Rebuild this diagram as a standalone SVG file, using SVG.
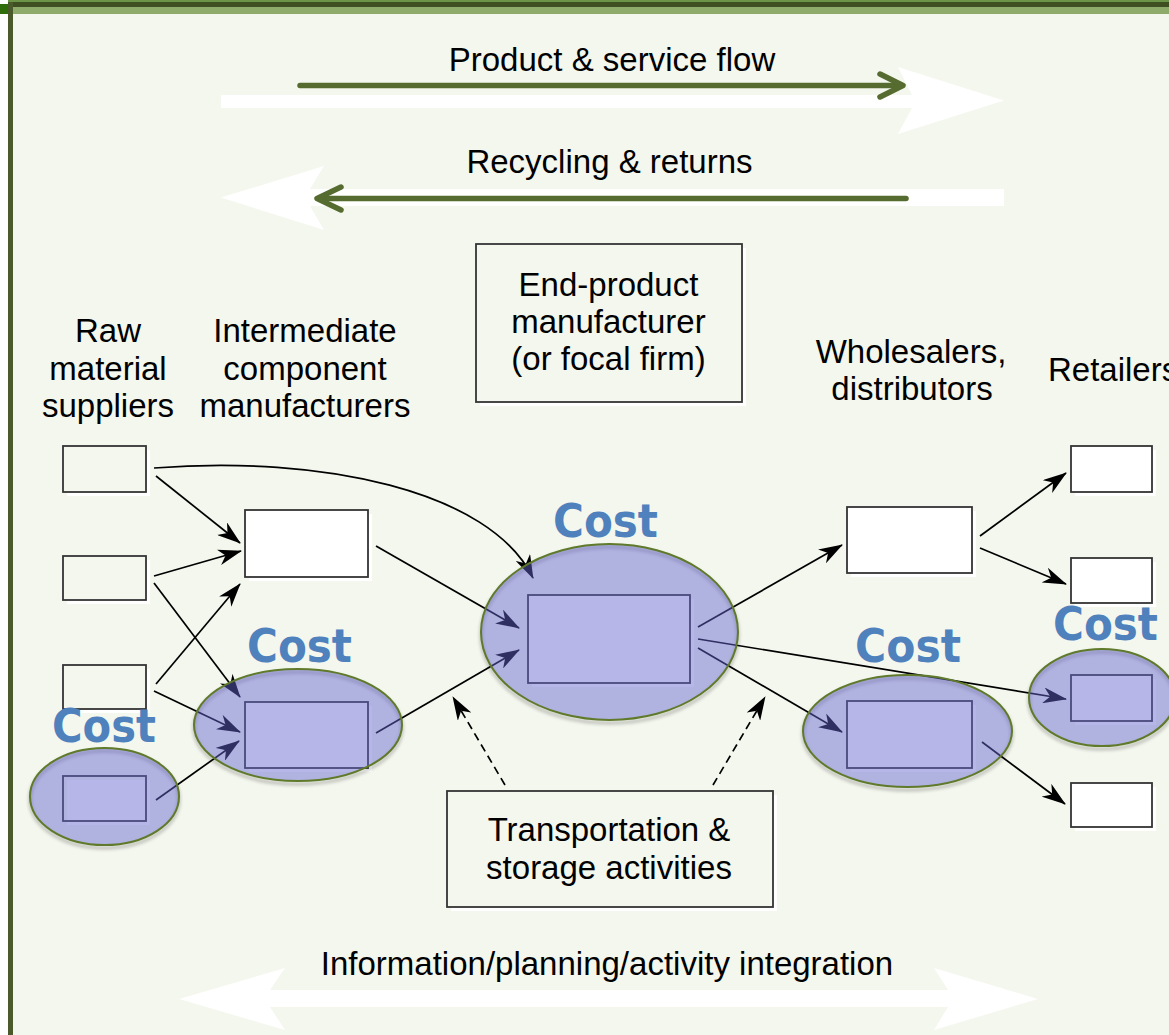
<svg xmlns="http://www.w3.org/2000/svg" width="1169" height="1035" viewBox="0 0 1169 1035">
<style>
.t{font-family:"Liberation Sans",Arial,sans-serif;font-size:33px;fill:#000;text-anchor:middle}
.cost{font-family:"DejaVu Sans",Verdana,sans-serif;font-weight:bold;font-size:47px;fill:#4f81bd}
.box{stroke:#333;stroke-width:1.8}
.sh{fill:#fff}
.hl{fill:rgb(100,100,208);fill-opacity:0.47;stroke:#5f7a2a;stroke-width:2}
.hs{fill:none;stroke:#000;stroke-opacity:0.18;stroke-width:4;filter:url(#blur)}
.c{fill:none;stroke:#000;stroke-width:1.7;marker-end:url(#ah)}
.d{stroke-dasharray:8 5}
.g{fill:none;stroke:#556b2f;stroke-width:5.5;stroke-linecap:round;stroke-linejoin:round}
.wa{fill:#fff}
</style>
<defs>
<marker id="ah" viewBox="0 0 24 16" refX="23" refY="8" markerWidth="24" markerHeight="16" markerUnits="userSpaceOnUse" orient="auto"><path d="M0,0 L24,8 L0,16 L7,8 Z" fill="#000"/></marker>
<filter id="blur" x="-10%" y="-10%" width="120%" height="130%"><feGaussianBlur stdDeviation="1.5"/></filter>
</defs>
<!-- frame -->
<rect x="0" y="0" width="1169" height="1035" fill="#fff"/>
<rect x="12" y="14" width="1157" height="1021" fill="#f4f7ee"/>
<rect x="8" y="0" width="1161" height="3" fill="#6b9446"/>
<rect x="8" y="2" width="1161" height="5" fill="#3f4f22"/>
<rect x="12" y="7" width="1157" height="7" fill="#8fab6c"/>
<rect x="0" y="4" width="8" height="10" fill="#2f6e0a"/>
<rect x="8" y="2" width="5" height="1033" fill="#4b5a2a"/>
<!-- flow arrows -->
<g id="flow-arrows">
<polygon class="wa" points="221,95 912,95 898,67 1004,100.5 898,134 912,108 221,108"/>
<line class="g" x1="300" y1="85.5" x2="902" y2="85.5"/>
<polyline class="g" points="880,74 903,85.5 880,97"/>
<polygon class="wa" points="1004,189 310,189 324,166 221,197.5 324,230 310,206 1004,206"/>
<line class="g" x1="906" y1="198.5" x2="319" y2="198.5"/>
<polyline class="g" points="341,187 317,198.5 341,210"/>
<polygon class="wa" points="270,990 285,968 179,999 285,1030 270,1007 948,1007 934,1030 1038,999 934,968 948,990"/>
</g>
<g id="labels">
<text class="t" x="612" y="71">Product &amp; service flow</text>
<text class="t" x="609.5" y="173">Recycling &amp; returns</text>
<text class="t" x="108" y="342">Raw</text>
<text class="t" x="108" y="380">material</text>
<text class="t" x="108" y="417">suppliers</text>
<text class="t" x="305" y="342">Intermediate</text>
<text class="t" x="305" y="380">component</text>
<text class="t" x="305" y="417">manufacturers</text>
<text class="t" x="911" y="363">Wholesalers,</text>
<text class="t" x="912" y="400">distributors</text>
<text class="t" x="1048" y="381" style="text-anchor:start">Retailers</text>
<text class="t" x="607" y="975">Information/planning/activity integration</text>
</g>
<g id="end-product-label">
<rect class="sh" x="480" y="248" width="266" height="158"/>
<rect class="box" x="476" y="244" width="266" height="158" fill="#f4f7ee"/>
<text class="t" x="608.5" y="296">End-product</text>
<text class="t" x="608.5" y="333">manufacturer</text>
<text class="t" x="608.5" y="370">(or focal firm)</text>
</g>
<g id="transport">
<rect class="sh" x="451" y="795" width="326" height="116"/>
<rect class="box" x="447" y="791" width="326" height="116" fill="#f4f7ee"/>
<text class="t" x="609" y="841">Transportation &amp;</text>
<text class="t" x="609" y="879">storage activities</text>
</g>
<!-- nodes -->
<g id="raw1"><rect class="sh" x="67" y="450" width="83" height="46"/><rect class="box" x="63" y="446" width="83" height="46" fill="#f4f7ee"/></g>
<g id="raw2"><rect class="sh" x="67" y="560" width="83" height="44"/><rect class="box" x="63" y="556" width="83" height="44" fill="#f4f7ee"/></g>
<g id="raw3"><rect class="sh" x="67" y="669" width="83" height="44"/><rect class="box" x="63" y="665" width="83" height="44" fill="#f4f7ee"/></g>
<g id="raw4"><rect class="sh" x="67" y="780" width="83" height="45"/><rect class="box" x="63" y="776" width="83" height="45" fill="#fff" fill-opacity="0"/></g>
<g id="int1"><rect class="sh" x="249" y="514" width="123" height="67"/><rect class="box" x="245" y="510" width="123" height="67" fill="#fff"/></g>
<g id="int2"><rect class="sh" x="249" y="706" width="123" height="66"/><rect class="box" x="245" y="702" width="123" height="66" fill="#fff"/></g>
<g id="focal"><rect class="sh" x="532" y="599" width="162" height="88"/><rect class="box" x="528" y="595" width="162" height="88" fill="#fff"/></g>
<g id="whole1"><rect class="sh" x="851" y="511" width="125" height="66"/><rect class="box" x="847" y="507" width="125" height="66" fill="#fff"/></g>
<g id="whole2"><rect class="sh" x="851" y="705" width="125" height="67"/><rect class="box" x="847" y="701" width="125" height="67" fill="#fff"/></g>
<g id="ret1"><rect class="sh" x="1075" y="450" width="81" height="46"/><rect class="box" x="1071" y="446" width="81" height="46" fill="#fff"/></g>
<g id="ret2"><rect class="sh" x="1075" y="562" width="81" height="45"/><rect class="box" x="1071" y="558" width="81" height="45" fill="#fff"/></g>
<g id="ret3"><rect class="sh" x="1075" y="679" width="81" height="46"/><rect class="box" x="1071" y="675" width="81" height="46" fill="#fff"/></g>
<g id="ret4"><rect class="sh" x="1075" y="787" width="81" height="44"/><rect class="box" x="1071" y="783" width="81" height="44" fill="#fff"/></g>
<!-- connectors -->
<g id="connectors">
<path class="c" d="M154,468 C320,455 490,490 533,578"/>
<line class="c" x1="156" y1="476" x2="240" y2="543"/>
<line class="c" x1="154" y1="576" x2="241" y2="551"/>
<line class="c" x1="154" y1="583" x2="240" y2="697"/>
<line class="c" x1="156" y1="684" x2="240" y2="584"/>
<line class="c" x1="154" y1="691" x2="240" y2="732"/>
<line class="c" x1="156" y1="800" x2="239" y2="741"/>
<line class="c" x1="376" y1="546" x2="519" y2="628"/>
<line class="c" x1="376" y1="733" x2="519" y2="650"/>
<line class="c" x1="698" y1="627" x2="842" y2="545"/>
<line class="c" x1="698" y1="639" x2="1066" y2="699"/>
<line class="c" x1="698" y1="648" x2="842" y2="732"/>
<line class="c" x1="980" y1="536" x2="1066" y2="473"/>
<line class="c" x1="980" y1="548" x2="1066" y2="584"/>
<line class="c" x1="982" y1="742" x2="1065" y2="804"/>
<line class="c d" x1="505" y1="785" x2="453" y2="697"/>
<line class="c d" x1="713" y1="785" x2="765" y2="697"/>
</g>
<!-- cost highlights -->
<g id="cost-raw">
<ellipse class="hs" cx="104.5" cy="799.5" rx="74.5" ry="48.5"/>
<ellipse class="hl" cx="104.5" cy="796.5" rx="74.5" ry="48.5"/>
<text class="cost" x="52" y="742" textLength="104" lengthAdjust="spacingAndGlyphs">Cost</text>
</g>
<g id="cost-int">
<ellipse class="hs" cx="298" cy="728" rx="104" ry="56"/>
<ellipse class="hl" cx="298" cy="725" rx="104" ry="56"/>
<text class="cost" x="247" y="662" textLength="105" lengthAdjust="spacingAndGlyphs">Cost</text>
</g>
<g id="cost-focal">
<ellipse class="hs" cx="609.5" cy="635" rx="128.5" ry="88"/>
<ellipse class="hl" cx="609.5" cy="632" rx="128.5" ry="88"/>
<text class="cost" x="553" y="537" textLength="105" lengthAdjust="spacingAndGlyphs">Cost</text>
</g>
<g id="cost-whole">
<ellipse class="hs" cx="907.5" cy="734" rx="104.5" ry="56"/>
<ellipse class="hl" cx="907.5" cy="731" rx="104.5" ry="56"/>
<text class="cost" x="855" y="662" textLength="106" lengthAdjust="spacingAndGlyphs">Cost</text>
</g>
<g id="cost-ret">
<ellipse class="hs" cx="1102" cy="700.5" rx="73" ry="48.5"/>
<ellipse class="hl" cx="1102" cy="697.5" rx="73" ry="48.5"/>
<text class="cost" x="1053" y="640" textLength="105" lengthAdjust="spacingAndGlyphs">Cost</text>
</g>
</svg>
